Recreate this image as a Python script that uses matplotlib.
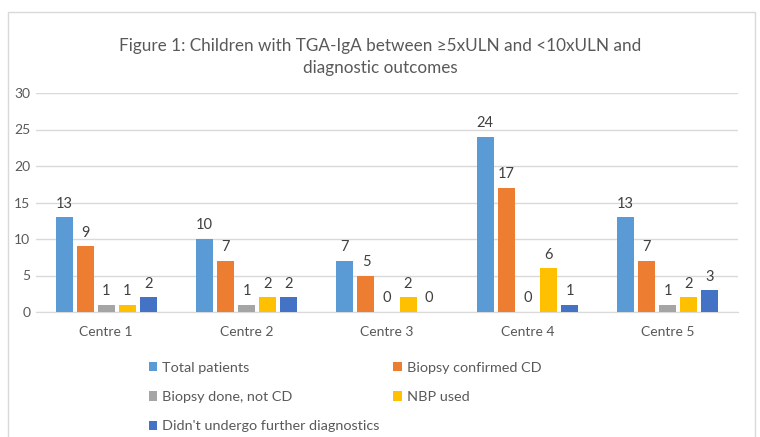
import matplotlib.pyplot as plt
import matplotlib.patches as mpatches
import numpy as np

plt.rcParams['font.family'] = ['Lato', 'DejaVu Sans']

centres = ['Centre 1', 'Centre 2', 'Centre 3', 'Centre 4', 'Centre 5']
total = [13, 10, 7, 24, 13]
confirmed = [9, 7, 5, 17, 7]
not_cd = [1, 1, 0, 0, 1]
nbp = [1, 2, 2, 6, 2]
no_further = [2, 2, 0, 1, 3]

names = ['Total patients', 'Biopsy confirmed CD', 'Biopsy done, not CD',
         'NBP used', "Didn't undergo further diagnostics"]
colors = ['#5B9BD5', '#ED7D31', '#A5A5A5', '#FFC000', '#4472C4']
series = [total, confirmed, not_cd, nbp, no_further]

txt = '#595959'
fig = plt.figure(figsize=(7.6, 4.37), dpi=100)
fig.patches.append(mpatches.Rectangle((8 / 760, -0.05), 747 / 760, 1 - 12 / 437 + 0.05,
                                      transform=fig.transFigure, fill=False,
                                      edgecolor='#d9d9d9', linewidth=1))
ax = fig.add_axes([36 / 760, 1 - 312 / 437, 702 / 760, 219 / 437])

x = np.arange(len(centres))
w = 0.121
step = 0.15
handles = []
for i, (vals, c, n) in enumerate(zip(series, colors, names)):
    pos = x + (i - 2) * step
    b = ax.bar(pos, vals, w, color=c, label=n, zorder=3)
    handles.append(b)
    for p, v in zip(pos, vals):
        ax.text(p, v + 0.9, str(v), ha='center', va='bottom', fontsize=10.5, color='#404040')

ax.set_xlim(-0.5, 4.5)
ax.set_ylim(0, 30)
ax.set_yticks(range(0, 31, 5))
ax.set_xticks(x)
ax.set_xticklabels(centres)
ax.grid(axis='y', color='#d9d9d9', linewidth=1, zorder=0)
for s in ['top', 'right', 'left']:
    ax.spines[s].set_visible(False)
ax.spines['bottom'].set_color('#d9d9d9')
ax.tick_params(length=0, labelsize=10, colors=txt)
ax.tick_params(axis='x', pad=10)
ax.tick_params(axis='y', pad=4)

fig.text(0.5, 1 - 57 / 437, 'Figure 1: Children with TGA-IgA between ≥5xULN and <10xULN and\ndiagnostic outcomes',
         ha='center', va='center', fontsize=12.3, color=txt, linespacing=1.45)

order = [0, 2, 4, 1, 3]
leg = fig.legend([handles[k] for k in order], [names[k] for k in order], ncol=2,
                 loc='upper left', bbox_to_anchor=(143 / 760, 1 - 356 / 437),
                 frameon=False, fontsize=10.4, labelcolor=txt, handlelength=0.6,
                 handleheight=0.6, handletextpad=0.35, columnspacing=0.9, labelspacing=1.2,
                 borderaxespad=0)

fig.savefig('out.png', dpi=100)
